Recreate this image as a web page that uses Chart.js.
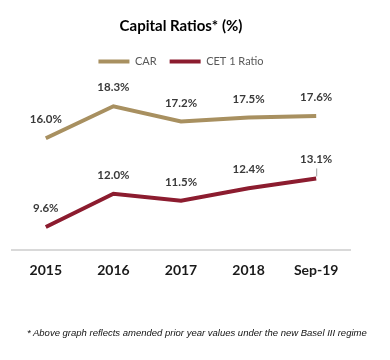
<!DOCTYPE html>
<html>
<head>
<meta charset="utf-8">
<script src="https://cdn.jsdelivr.net/npm/chart.js@4.4.0/dist/chart.umd.min.js"></script>
<style>
  html, body { margin: 0; padding: 0; background: #fff; }
  #wrap { position: relative; width: 390px; height: 360px; }
  #note { position: absolute; left: 27px; top: 327px; font-family: "Liberation Sans", Arial, sans-serif; font-style: italic; font-size: 9.5px; color: #111; white-space: nowrap; }
</style>
</head>
<body>
<div id="wrap">
  <canvas id="c" width="390" height="360"></canvas>
  <div id="note">* Above graph reflects amended prior year values under the new Basel III regime</div>
</div>
<script>
const categories = ["2015", "2016", "2017", "2018", "Sep-19"];
const carValues = [16.0, 18.3, 17.2, 17.5, 17.6];
const cet1Values = [9.6, 12.0, 11.5, 12.4, 13.1];
const seriesNames = ["CAR", "CET 1 Ratio"];
const chartTitle = "Capital Ratios* (%)";

const labelPlugin = {
  id: 'pointLabels',
  afterDatasetsDraw(chart) {
    const ctx = chart.ctx;
    ctx.save();
    ctx.font = 'bold 11.5px Lato, "Noto Sans", sans-serif';
    ctx.fillStyle = '#3a3a3a';
    ctx.textAlign = 'center';
    ctx.textBaseline = 'middle';
    chart.data.datasets.forEach((ds, di) => {
      const meta = chart.getDatasetMeta(di);
      meta.data.forEach((pt, i) => {
        const v = ds.data[i];
        const last = (di === 1 && i === ds.data.length - 1);
        const off = last ? 19 : 18.5;
        ctx.fillText(v.toFixed(1) + '%', pt.x, pt.y - off);
        if (last) {
          ctx.strokeStyle = '#a0a0a0';
          ctx.lineWidth = 1;
          ctx.beginPath();
          ctx.moveTo(pt.x + 0.5, pt.y - 2);
          ctx.lineTo(pt.x + 0.5, pt.y - 10);
          ctx.stroke();
        }
      });
    });
    ctx.restore();
  }
};

new Chart(document.getElementById('c'), {
  type: 'line',
  data: {
    labels: categories,
    datasets: [
      { label: seriesNames[0], data: carValues, borderColor: '#A89060', backgroundColor: '#A89060', borderWidth: 4, pointRadius: 0, tension: 0 },
      { label: seriesNames[1], data: cet1Values, borderColor: '#8C1C2F', backgroundColor: '#8C1C2F', borderWidth: 4, pointRadius: 0, tension: 0 }
    ]
  },
  options: {
    responsive: false,
    animation: false,
    layout: { padding: { left: 12, right: 40, top: 0, bottom: 69 } },
    plugins: {
      title: {
        display: true,
        text: chartTitle,
        color: '#000',
        font: { family: 'Lato, "Noto Sans", sans-serif', size: 15, weight: 'bold' },
        padding: { top: 17, bottom: 8 }
      },
      legend: {
        display: true,
        labels: {
          usePointStyle: true,
          pointStyle: 'line',
          pointStyleWidth: 31,
          boxWidth: 31,
          padding: 13,
          color: '#595959',
          font: { family: 'Lato, "Noto Sans", sans-serif', size: 11 }
        }
      },
      tooltip: { enabled: false }
    },
    scales: {
      x: {
        offset: true,
        grid: { display: false, drawTicks: false },
        border: { display: true, color: '#d9d9d9', width: 2 },
        ticks: { color: '#1a1a1a', padding: 12, font: { family: 'Lato, "Noto Sans", sans-serif', size: 14, weight: 'bold' } }
      },
      y: {
        display: false,
        min: 7.93,
        max: 20.41
      }
    }
  },
  plugins: [labelPlugin]
});
</script>
</body>
</html>
